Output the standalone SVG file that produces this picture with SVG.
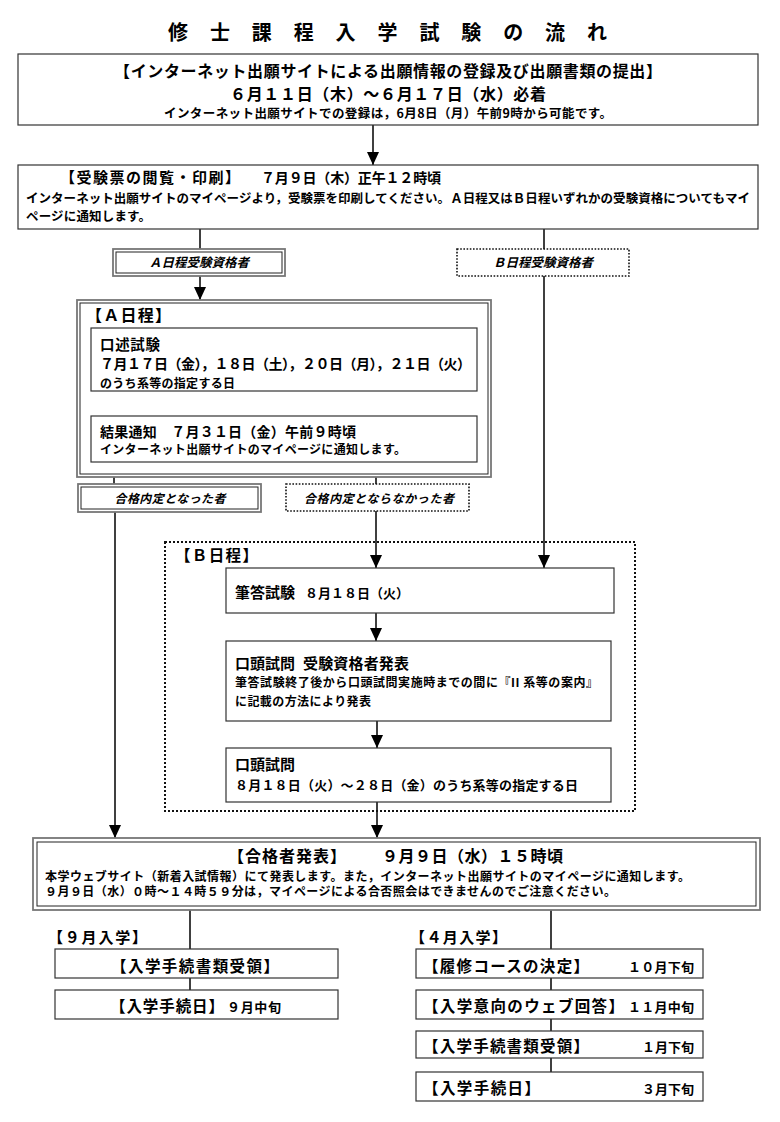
<svg xmlns="http://www.w3.org/2000/svg" width="780" height="1122" viewBox="0 0 780 1122">
<style>
text{font-family:"Noto Sans CJK JP","Noto Sans CJK SC",sans-serif;font-weight:bold;fill:#000}
.box{fill:#fff;stroke:#333;stroke-width:1.2}
.dbl-o{fill:#fff;stroke:#777;stroke-width:1.8}
.dbl-i{fill:none;stroke:#222;stroke-width:1}
.dot{fill:none;stroke:#111;stroke-width:1.6;stroke-dasharray:1.6 1.6}
.dotb{fill:none;stroke:#111;stroke-width:2;stroke-dasharray:2 2}
.ln{stroke:#000;stroke-width:1.5;fill:none}
.it{font-style:italic}
</style>
<defs>
<marker id="ah" viewBox="0 0 13 12" refX="13" refY="6" markerWidth="13" markerHeight="12" markerUnits="userSpaceOnUse" orient="auto">
<path d="M0,0 L13,6 L0,12 z" fill="#000"/>
</marker>
</defs>
<rect width="780" height="1122" fill="#fff"/>

<g id="title">
<text font-size="20" y="40" x="168 209.9 251.8 293.7 335.6 377.5 419.4 461.3 503.2 545.1 587">修士課程入学試験の流れ</text>
</g>

<g id="connectors">
<line class="ln" x1="373" y1="125" x2="373" y2="165" marker-end="url(#ah)"/>
<line class="ln" x1="200" y1="229" x2="200" y2="249"/>
<line class="ln" x1="544" y1="229" x2="544" y2="249"/>
<line class="ln" x1="200" y1="276" x2="200" y2="300" marker-end="url(#ah)"/>
<line class="ln" x1="544" y1="276" x2="544" y2="568" marker-end="url(#ah)"/>
<line class="ln" x1="201" y1="391" x2="201" y2="416" marker-end="url(#ah)"/>
<line class="ln" x1="114" y1="462" x2="114" y2="484"/>
<line class="ln" x1="376" y1="462" x2="376" y2="484"/>
<line class="ln" x1="115" y1="512" x2="115" y2="838" marker-end="url(#ah)"/>
<line class="ln" x1="376" y1="511" x2="376" y2="568" marker-end="url(#ah)"/>
<line class="ln" x1="376" y1="613" x2="376" y2="641" marker-end="url(#ah)"/>
<line class="ln" x1="377" y1="721" x2="377" y2="748" marker-end="url(#ah)"/>
<line class="ln" x1="377" y1="802" x2="377" y2="838" marker-end="url(#ah)"/>
<line class="ln" x1="190" y1="910" x2="190" y2="949"/>
<line class="ln" x1="190" y1="978" x2="190" y2="990"/>
<line class="ln" x1="551" y1="910" x2="551" y2="949"/>
<line class="ln" x1="551" y1="978" x2="551" y2="990"/>
<line class="ln" x1="551" y1="1019" x2="551" y2="1031"/>
<line class="ln" x1="551" y1="1058" x2="551" y2="1072"/>
</g>

<g id="n-application">
<rect class="box" x="18" y="54" width="740" height="71"/>
<text font-size="16" x="388" y="77" text-anchor="middle" textLength="548">【インターネット出願サイトによる出願情報の登録及び出願書類の提出】</text>
<text font-size="16" x="388" y="100" text-anchor="middle" textLength="316">６月１１日（木）～６月１７日（水）必着</text>
<text font-size="12.5" x="388" y="118" text-anchor="middle" textLength="448">インターネット出願サイトでの登録は，6月8日（月）午前9時から可能です。</text>
</g>

<g id="n-ticket">
<rect class="box" x="18" y="165" width="740" height="64"/>
<text font-size="15" x="60" y="183" textLength="180">【受験票の閲覧・印刷】</text>
<text font-size="14" x="261" y="183" textLength="180">７月９日（木）正午１２時頃</text>
<text font-size="12.5" x="26" y="203" textLength="724">インターネット出願サイトのマイページより，受験票を印刷してください。Ａ日程又はＢ日程いずれかの受験資格についてもマイ</text>
<text font-size="12.5" x="26" y="221" textLength="125">ページに通知します。</text>
</g>

<g id="n-a-qual">
<rect class="dbl-o" x="113" y="249" width="172" height="27"/>
<rect class="dbl-i" x="116" y="252" width="166" height="21"/>
<text class="it" font-size="12.5" x="199" y="267" text-anchor="middle" textLength="100">Ａ日程受験資格者</text>
</g>

<g id="n-b-qual">
<rect class="dot" x="457" y="249" width="172" height="27"/>
<text class="it" font-size="12.5" x="543" y="267" text-anchor="middle" textLength="100">Ｂ日程受験資格者</text>
</g>

<g id="n-a-schedule">
<rect class="dbl-o" x="77" y="300" width="414" height="177"/>
<rect class="dbl-i" x="80" y="303" width="408" height="171"/>
<text font-size="16" x="86" y="321" textLength="85">【Ａ日程】</text>
</g>

<g id="n-a-oral">
<rect class="box" x="91" y="328" width="386" height="63"/>
<text font-size="14.5" x="100" y="350" textLength="60">口述試験</text>
<text font-size="14" x="100" y="369" textLength="371">７月１７日（金），１８日（土），２０日（月），２１日（火）</text>
<text font-size="12" x="100" y="388" textLength="135">のうち系等の指定する日</text>
</g>

<g id="n-a-result">
<rect class="box" x="91" y="416" width="386" height="46"/>
<text font-size="14" x="100" y="437" textLength="256">結果通知　７月３１日（金）午前９時頃</text>
<text font-size="12" x="100" y="454" textLength="306">インターネット出願サイトのマイページに通知します。</text>
</g>

<g id="n-pass">
<rect class="dbl-o" x="78" y="484" width="183" height="28"/>
<rect class="dbl-i" x="81" y="487" width="177" height="22"/>
<text class="it" font-size="12" x="170" y="503" text-anchor="middle" textLength="111">合格内定となった者</text>
</g>

<g id="n-notpass">
<rect class="dot" x="286" y="484" width="183" height="27"/>
<text class="it" font-size="12" x="379" y="503" text-anchor="middle" textLength="150">合格内定とならなかった者</text>
</g>

<g id="n-b-schedule">
<rect class="dotb" x="165" y="542" width="470" height="269"/>
<text font-size="15.5" x="175" y="561" textLength="83">【Ｂ日程】</text>
</g>

<g id="n-b-written">
<rect class="box" x="226" y="568" width="388" height="45"/>
<text font-size="15" x="235" y="598" textLength="60">筆答試験</text>
<text font-size="13" x="305" y="598" textLength="104">８月１８日（火）</text>
</g>

<g id="n-b-announce">
<rect class="box" x="226" y="641" width="385" height="80"/>
<text font-size="15" x="235" y="669" textLength="60">口頭試問</text>
<text font-size="15" x="303" y="669" textLength="106">受験資格者発表</text>
<text font-size="12" x="235" y="687" textLength="363">筆答試験終了後から口頭試問実施時までの間に『II 系等の案内』</text>
<text font-size="12" x="235" y="706" textLength="136">に記載の方法により発表</text>
</g>

<g id="n-b-oral">
<rect class="box" x="226" y="748" width="385" height="54"/>
<text font-size="15" x="235" y="770" textLength="60">口頭試問</text>
<text font-size="13" x="235" y="790" textLength="343">８月１８日（火）～２８日（金）のうち系等の指定する日</text>
</g>

<g id="n-announce">
<rect class="dbl-o" x="33" y="838" width="727" height="72"/>
<rect class="dbl-i" x="37" y="842" width="719" height="64"/>
<text font-size="16" x="228" y="862" textLength="118">【合格者発表】</text>
<text font-size="16" x="382" y="862" textLength="181">９月９日（水）１５時頃</text>
<text font-size="12" x="45" y="881" textLength="645">本学ウェブサイト（新着入試情報）にて発表します。また，インターネット出願サイトのマイページに通知します。</text>
<text font-size="12" x="45" y="896" textLength="571">９月９日（水）０時～１４時５９分は，マイページによる合否照会はできませんのでご注意ください。</text>
</g>

<g id="n-sep">
<text font-size="15" x="48" y="943" textLength="99">【９月入学】</text>
<rect class="box" x="55" y="949" width="283" height="29"/>
<text font-size="15.5" x="111" y="972" textLength="168">【入学手続書類受領】</text>
</g>

<g id="n-sep-proc">
<rect class="box" x="55" y="990" width="283" height="29"/>
<text font-size="15.5" x="110" y="1012" textLength="114">【入学手続日】</text>
<text font-size="13" x="227" y="1012" textLength="54">９月中旬</text>
</g>

<g id="n-apr-course">
<text font-size="15" x="410" y="943" textLength="97">【４月入学】</text>
<rect class="box" x="416" y="949" width="287" height="29"/>
<text font-size="15.5" x="423" y="972" textLength="166">【履修コースの決定】</text>
<text font-size="13" x="628" y="972" textLength="66">１０月下旬</text>
</g>

<g id="n-apr-web">
<rect class="box" x="416" y="990" width="287" height="29"/>
<text font-size="15.5" x="423" y="1012" textLength="201">【入学意向のウェブ回答】</text>
<text font-size="13" x="628" y="1012" textLength="66">１１月中旬</text>
</g>

<g id="n-apr-docs">
<rect class="box" x="416" y="1031" width="287" height="27"/>
<text font-size="15.5" x="423" y="1052" textLength="166">【入学手続書類受領】</text>
<text font-size="13" x="642" y="1052" textLength="52">１月下旬</text>
</g>

<g id="n-apr-proc">
<rect class="box" x="416" y="1072" width="287" height="29"/>
<text font-size="15.5" x="423" y="1094" textLength="117">【入学手続日】</text>
<text font-size="13" x="642" y="1094" textLength="52">３月下旬</text>
</g>
</svg>
